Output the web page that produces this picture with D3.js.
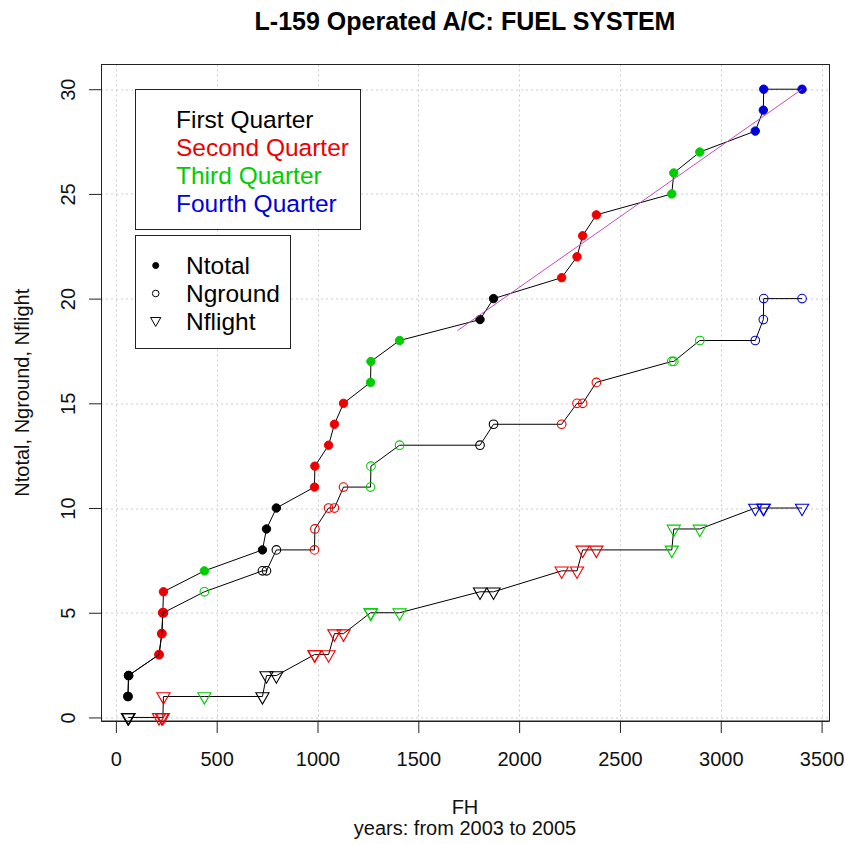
<!DOCTYPE html>
<html>
<head>
<meta charset="utf-8">
<script src="https://cdn.jsdelivr.net/npm/d3@7"></script>
<style>
  body { margin: 0; background: #fff; }
  text { font-family: "Liberation Sans", Arial, sans-serif; }
</style>
</head>
<body>
<div id="chart"></div>
<script>
// Events (one per failure)
const eventFH = [60, 63, 214, 228, 233, 236, 439, 727, 747, 796, 985, 987, 1055, 1084, 1129,
    1263, 1265, 1407, 1806, 1873, 2211, 2287, 2315, 2383, 2757, 2767, 2896, 3171, 3211, 3213, 3403];
const eventQuarter = [1, 1, 2, 2, 2, 2, 3, 1, 1, 1, 2, 2, 2, 2, 2,
    3, 3, 3, 1, 1, 2, 2, 2, 2, 3, 3, 3, 4, 4, 4, 4];
const nTotal = [1, 2, 3, 4, 5, 6, 7, 8, 9, 10, 11, 12, 13, 14, 15,
    16, 17, 18, 19, 20, 21, 22, 23, 24, 25, 26, 27, 28, 29, 30, 30];
const nGround = [1, 2, 3, 4, 5, 5, 6, 7, 7, 8, 8, 9, 10, 10, 11,
    11, 12, 13, 13, 14, 14, 15, 15, 16, 17, 17, 18, 18, 19, 20, 20];
const nFlight = [0, 0, 0, 0, 0, 1, 1, 1, 2, 2, 3, 3, 3, 4, 4,
    5, 5, 5, 6, 6, 7, 7, 8, 8, 8, 9, 9, 10, 10, 10, 10];

// Trend line end points
const trendFH = [1694, 3403];
const trendN = [18.47, 30];

// Ticks and labels
const xTicks = [0, 500, 1000, 1500, 2000, 2500, 3000, 3500];
const yTicks = [0, 5, 10, 15, 20, 25, 30];
const quarterLabels = ["First Quarter", "Second Quarter", "Third Quarter", "Fourth Quarter"];
const seriesLabels = ["Ntotal", "Nground", "Nflight"];
const quarterColors = ["#000000", "#ee0000", "#00cd00", "#0000dd"];

// Set up the dimensions
const W = 845, H = 844;
const margin = { top: 64.5, right: 16, bottom: 123, left: 101 };
const width = W - margin.left - margin.right;
const height = H - margin.top - margin.bottom;

const root = d3.select("#chart")
    .append("svg")
    .attr("width", W)
    .attr("height", H);

const svg = root.append("g")
    .attr("transform", `translate(${margin.left},${margin.top})`);

// Scales (R style 4% padding on x)
const ext = d3.extent(eventFH);
const pad = (ext[1] - ext[0]) * 0.04;
const x = d3.scaleLinear()
    .domain([ext[0] - pad, ext[1] + pad])
    .range([0, width]);
const y = d3.scaleLinear()
    .domain([-0.17, 31.18])
    .range([height, 0]);

// Grid
svg.append("g")
    .selectAll("line")
    .data(xTicks)
    .join("line")
    .attr("x1", d => Math.round(x(d)) + 0.5)
    .attr("x2", d => Math.round(x(d)) + 0.5)
    .attr("y1", 0)
    .attr("y2", height)
    .attr("stroke", "#cccccc")
    .attr("stroke-dasharray", "2,3");

svg.append("g")
    .selectAll("line")
    .data(yTicks)
    .join("line")
    .attr("y1", d => Math.round(y(d)) + 0.5)
    .attr("y2", d => Math.round(y(d)) + 0.5)
    .attr("x1", 0)
    .attr("x2", width)
    .attr("stroke", "#cccccc")
    .attr("stroke-dasharray", "2,3");

// Axes
const xAxis = svg.append("g")
    .attr("transform", `translate(0,${height})`)
    .call(d3.axisBottom(x)
        .tickValues(xTicks)
        .tickFormat(d3.format("d"))
        .tickSize(12)
        .tickPadding(19)
        .tickSizeOuter(0));
xAxis.selectAll("text")
    .style("font-size", "20px")
    .style("font-family", "Liberation Sans, Arial, sans-serif")
    .attr("fill", "#111");

const yAxis = svg.append("g")
    .call(d3.axisLeft(y)
        .tickValues(yTicks)
        .tickFormat(d3.format("d"))
        .tickSize(12)
        .tickSizeOuter(0));
yAxis.selectAll("text")
    .attr("transform", "rotate(-90)")
    .attr("x", 0)
    .attr("y", -26)
    .attr("dy", 0)
    .style("text-anchor", "middle")
    .style("font-size", "20px")
    .style("font-family", "Liberation Sans, Arial, sans-serif")
    .attr("fill", "#111");

[xAxis, yAxis].forEach(a => {
    a.selectAll("line").attr("stroke", "#222");
    a.select(".domain").attr("stroke", "#222");
});

// Box
svg.append("rect")
    .attr("x", 0.5)
    .attr("y", 0)
    .attr("width", width)
    .attr("height", height)
    .attr("fill", "none")
    .attr("stroke", "#222")
    .attr("stroke-width", 1);

// Series
const idx = d3.range(eventFH.length);
const colorOf = i => quarterColors[eventQuarter[i] - 1];

function triPath(cx, cy, s) {
    const h = 1.3468 * s, top = 0.7776 * s, apex = 1.5551 * s;
    return `M${cx - h},${cy - top}L${cx + h},${cy - top}L${cx},${cy + apex}Z`;
}

function drawSeries(values, shape) {
    const line = d3.line()
        .x(i => x(eventFH[i]))
        .y(i => y(values[i]));
    svg.append("path")
        .datum(idx)
        .attr("d", line)
        .attr("fill", "none")
        .attr("stroke", "#000")
        .attr("stroke-width", 1);

    const g = svg.append("g");
    if (shape === "dot") {
        g.selectAll("circle").data(idx).join("circle")
            .attr("cx", i => x(eventFH[i]))
            .attr("cy", i => y(values[i]))
            .attr("r", 4.2)
            .attr("fill", colorOf)
            .attr("stroke", colorOf);
    } else if (shape === "circle") {
        g.selectAll("circle").data(idx).join("circle")
            .attr("cx", i => x(eventFH[i]))
            .attr("cy", i => y(values[i]))
            .attr("r", 4.3)
            .attr("fill", "none")
            .attr("stroke", colorOf)
            .attr("stroke-width", 1.1);
    } else {
        g.selectAll("path").data(idx).join("path")
            .attr("d", i => triPath(x(eventFH[i]), y(values[i]), 4.9))
            .attr("fill", "none")
            .attr("stroke", colorOf)
            .attr("stroke-width", 1.1);
    }
}

drawSeries(nTotal, "dot");
drawSeries(nGround, "circle");
drawSeries(nFlight, "tri");

// Trend line
svg.append("line")
    .attr("x1", x(trendFH[0]))
    .attr("y1", y(trendN[0]))
    .attr("x2", x(trendFH[1]))
    .attr("y2", y(trendN[1]))
    .attr("stroke", "#c04ac0")
    .attr("stroke-width", 1);

// Title and axis labels
root.append("text")
    .attr("x", margin.left + width / 2)
    .attr("y", 30)
    .attr("text-anchor", "middle")
    .style("font-size", "25px")
    .style("font-weight", 700)
    .text("L-159 Operated A/C: FUEL SYSTEM");

root.append("text")
    .attr("x", margin.left + width / 2)
    .attr("y", 814)
    .attr("text-anchor", "middle")
    .style("font-size", "20px")
    .attr("fill", "#111")
    .text("FH");

root.append("text")
    .attr("x", margin.left + width / 2)
    .attr("y", 835)
    .attr("text-anchor", "middle")
    .style("font-size", "20px")
    .attr("fill", "#111")
    .text("years: from 2003 to 2005");

root.append("text")
    .attr("transform", `translate(29,${margin.top + height / 2}) rotate(-90)`)
    .attr("text-anchor", "middle")
    .style("font-size", "20px")
    .attr("fill", "#111")
    .text("Ntotal, Nground, Nflight");

// Legend: quarters
const leg1 = root.append("g");
leg1.append("rect")
    .attr("x", 135.5).attr("y", 89.5)
    .attr("width", 225).attr("height", 140)
    .attr("fill", "#fff").attr("stroke", "#222");
leg1.selectAll("text")
    .data(quarterLabels)
    .join("text")
    .attr("x", 176)
    .attr("y", (d, i) => 127.5 + i * 28.1)
    .style("font-size", "24.5px")
    .attr("fill", (d, i) => quarterColors[i])
    .text(d => d);

// Legend: series
const leg2 = root.append("g");
leg2.append("rect")
    .attr("x", 135.5).attr("y", 235.5)
    .attr("width", 155).attr("height", 113)
    .attr("fill", "#fff").attr("stroke", "#222");
leg2.selectAll("text")
    .data(seriesLabels)
    .join("text")
    .attr("x", 186)
    .attr("y", (d, i) => 274.3 + i * 28)
    .style("font-size", "24.5px")
    .text(d => d);
leg2.append("circle")
    .attr("cx", 155.7).attr("cy", 265.5).attr("r", 3)
    .attr("fill", "#000").attr("stroke", "#000");
leg2.append("circle")
    .attr("cx", 155.7).attr("cy", 293.5).attr("r", 3.3)
    .attr("fill", "none").attr("stroke", "#000");
leg2.append("path")
    .attr("d", triPath(155.7, 320.5, 3.8))
    .attr("fill", "none").attr("stroke", "#000");
</script>
</body>
</html>
